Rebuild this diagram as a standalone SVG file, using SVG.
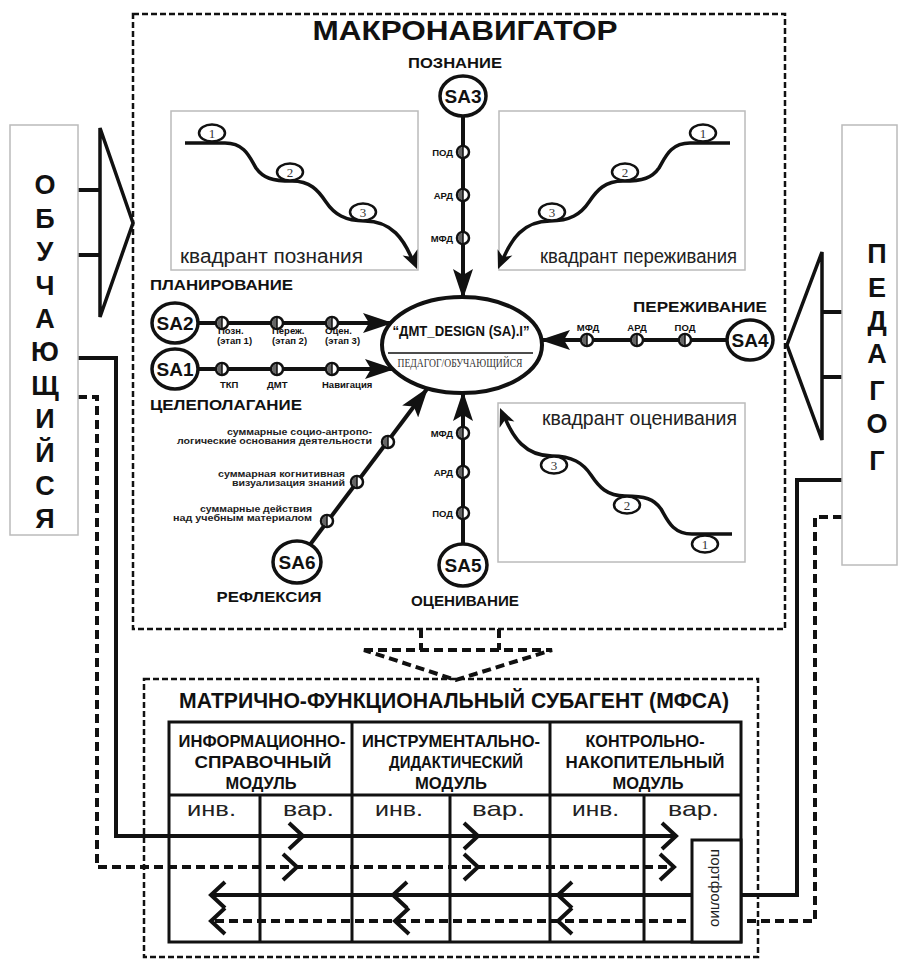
<svg xmlns="http://www.w3.org/2000/svg" width="898" height="962" viewBox="0 0 898 962">
<style>
.b{font-family:"Liberation Sans",Arial,sans-serif;font-weight:bold;fill:#111}
.r{font-family:"Liberation Sans",Arial,sans-serif;fill:#222}
.s{font-family:"Liberation Serif","Times New Roman",serif;fill:#333}
.ln{stroke:#111;stroke-width:4;fill:none}
.dl{stroke:#111;stroke-width:4;fill:none;stroke-dasharray:9 5}
.bd{stroke:#111;stroke-width:2.5;fill:none;stroke-dasharray:6 3}
.q{fill:#fff;stroke:#bbb;stroke-width:1.5}
.sa{fill:#fff;stroke:#111;stroke-width:3.5}
.cv{stroke:#111;stroke-width:3.5;fill:none}
.qc{fill:#fff;stroke:#111;stroke-width:2.5}
.ch{stroke:#111;stroke-width:4;fill:none;stroke-linejoin:miter}
.tb{stroke:#111;stroke-width:3;fill:none}
.bx{fill:#fff;stroke:#bbb;stroke-width:1.5}
.tri{fill:#fff;stroke:#111;stroke-width:3.5}
</style>
<defs>
<marker id="ah" viewBox="0 0 30 20" refX="28" refY="10" markerWidth="30" markerHeight="20" markerUnits="userSpaceOnUse" orient="auto">
<path d="M0,0 L30,10 L0,20 L6,10 Z" fill="#111"/>
</marker>
<g id="nd">
<circle r="6" fill="#fff" stroke="#111" stroke-width="2.5"/>
<path d="M0,-5 A5,5 0 0 0 0,5 Z" fill="#666"/>
<line x1="0" y1="-6" x2="0" y2="6" stroke="#111" stroke-width="1.5"/>
</g>
<g id="qcurve">
<path class="cv" d="M185,143 L225,143 C245,143 250,158 256,168 C263,178 272,181 292,181 C310,181 318,190 326,202 C334,214 345,221 365,221 C392,221 404,240 412,259"/>
<polygon points="417,269 402.6,255.5 412,257 417.4,249.3" fill="#111"/>
<ellipse class="qc" cx="212" cy="133" rx="13" ry="8.5"/>
<ellipse class="qc" cx="290" cy="172" rx="13" ry="8.5"/>
<ellipse class="qc" cx="363" cy="212" rx="13" ry="8.5"/>
</g>
</defs>

<!-- MACRONAVIGATOR frame -->
<g id="macronav">
<rect class="bd" x="133" y="14" width="652" height="615"/>
<text class="b" x="465" y="40" font-size="27" text-anchor="middle" textLength="305" lengthAdjust="spacingAndGlyphs">МАКРОНАВИГАТОР</text>
</g>

<!-- quadrants -->
<g id="q-poznanie">
<rect class="q" x="171" y="111" width="247" height="159"/>
<use href="#qcurve"/>
<text class="s" font-size="13" text-anchor="middle" x="212" y="138">1</text>
<text class="s" font-size="13" text-anchor="middle" x="290" y="177">2</text>
<text class="s" font-size="13" text-anchor="middle" x="363" y="217">3</text>
<text class="r" x="180" y="263" font-size="20" textLength="183" lengthAdjust="spacingAndGlyphs">квадрант познания</text>
</g>
<g id="q-perezhivanie">
<rect class="q" x="499" y="111" width="246" height="159"/>
<use href="#qcurve" transform="translate(915,0) scale(-1,1)"/>
<text class="s" font-size="13" text-anchor="middle" x="703" y="138">1</text>
<text class="s" font-size="13" text-anchor="middle" x="625" y="177">2</text>
<text class="s" font-size="13" text-anchor="middle" x="552" y="217">3</text>
<text class="r" x="540" y="263" font-size="20" textLength="197" lengthAdjust="spacingAndGlyphs">квадрант переживания</text>
</g>
<g id="q-ocenivanie">
<rect class="q" x="498" y="403" width="247" height="159"/>
<use href="#qcurve" transform="translate(917,677) scale(-1,-1)"/>
<text class="s" font-size="13" text-anchor="middle" x="705" y="549">1</text>
<text class="s" font-size="13" text-anchor="middle" x="627" y="510">2</text>
<text class="s" font-size="13" text-anchor="middle" x="554" y="470">3</text>
<text class="r" x="542" y="425" font-size="20" textLength="195" lengthAdjust="spacingAndGlyphs">квадрант оценивания</text>
</g>

<!-- connectors -->
<g id="connectors">
<line class="ln" x1="463" y1="96" x2="463" y2="297" marker-end="url(#ah)"/>
<line class="ln" x1="463" y1="565" x2="463" y2="393" marker-end="url(#ah)"/>
<line class="ln" x1="175" y1="323" x2="391" y2="323" marker-end="url(#ah)"/>
<line class="ln" x1="175" y1="369" x2="393" y2="369" marker-end="url(#ah)"/>
<line class="ln" x1="750" y1="340" x2="542" y2="340" marker-end="url(#ah)"/>
<line class="ln" x1="297" y1="562" x2="427" y2="389" marker-end="url(#ah)"/>

<!-- learner side -->
<line class="ln" x1="78" y1="190" x2="100" y2="190"/>
<line class="ln" x1="78" y1="255" x2="100" y2="255"/>
<polygon class="tri" points="100,128 133,223 100,317"/>
<path class="ln" d="M78,358 H116 V836 H676"/>
<path class="dl" d="M78,397 H97 V867 H674"/>

<!-- teacher side -->
<line class="ln" x1="822" y1="312" x2="842" y2="312"/>
<line class="ln" x1="822" y1="377" x2="842" y2="377"/>
<polygon class="tri" points="822,252 787,345 822,440"/>
<path class="ln" d="M842,480 H797 V895 H211"/>
<path class="dl" d="M842,517 H815 V921 H211"/>

<!-- macronav to MFSA -->
<path class="dl" d="M421,629 V650 M499,629 V650"/>
<path class="dl" d="M364,650 H552 L456,680 Z"/>
</g>

<!-- spoke nodes -->
<g id="spoke-nodes">
<use href="#nd" x="463" y="152"/><use href="#nd" x="463" y="195"/><use href="#nd" x="463" y="238"/>
<use href="#nd" x="463" y="433"/><use href="#nd" x="463" y="472"/><use href="#nd" x="463" y="513"/>
<use href="#nd" x="222" y="323"/><use href="#nd" x="277" y="323"/><use href="#nd" x="332" y="323"/>
<use href="#nd" x="222" y="369"/><use href="#nd" x="277" y="369"/><use href="#nd" x="332" y="369"/>
<use href="#nd" x="587" y="340"/><use href="#nd" x="637" y="340"/><use href="#nd" x="685" y="340"/>
<use href="#nd" x="388" y="442"/><use href="#nd" x="357" y="482"/><use href="#nd" x="327" y="521"/>
</g>

<g id="spoke-labels" class="b" font-size="9.5">
<text x="453" y="156" text-anchor="end">ПОД</text>
<text x="453" y="199" text-anchor="end">АРД</text>
<text x="453" y="242" text-anchor="end">МФД</text>
<text x="453" y="437" text-anchor="end">МФД</text>
<text x="453" y="476" text-anchor="end">АРД</text>
<text x="453" y="517" text-anchor="end">ПОД</text>
<text x="588" y="331" text-anchor="middle">МФД</text>
<text x="637" y="331" text-anchor="middle">АРД</text>
<text x="685" y="331" text-anchor="middle">ПОД</text>
<text x="218" y="334">Позн.</text>
<text x="217" y="344">(этап 1)</text>
<text x="272" y="334">Переж.</text>
<text x="272" y="344">(этап 2)</text>
<text x="325" y="334">Оцен.</text>
<text x="325" y="344">(этап 3)</text>
<text x="220" y="388">ТКП</text>
<text x="267" y="388">ДМТ</text>
<text x="322" y="388">Навигация</text>
<g font-size="9" fill="#222">
<text x="372" y="435" text-anchor="end" textLength="145" lengthAdjust="spacingAndGlyphs">суммарные социо-антропо-</text>
<text x="372" y="444" text-anchor="end" textLength="195" lengthAdjust="spacingAndGlyphs">логические основания деятельности</text>
<text x="345" y="477" text-anchor="end" textLength="127" lengthAdjust="spacingAndGlyphs">суммарная когнитивная</text>
<text x="345" y="486" text-anchor="end" textLength="113" lengthAdjust="spacingAndGlyphs">визуализация знаний</text>
<text x="312" y="512" text-anchor="end" textLength="112" lengthAdjust="spacingAndGlyphs">суммарные действия</text>
<text x="312" y="521" text-anchor="end" textLength="139" lengthAdjust="spacingAndGlyphs">над учебным материалом</text>
</g>
</g>

<!-- core -->
<g id="core">
<ellipse cx="462" cy="345" rx="80" ry="48" fill="#fff" stroke="#111" stroke-width="4"/>
<text class="b" x="461" y="336" font-size="15" text-anchor="middle" textLength="137" lengthAdjust="spacingAndGlyphs">“ДМТ_DESIGN (SA).I”</text>
<line x1="388" y1="353" x2="533" y2="353" stroke="#111" stroke-width="1.5"/>
<text class="s" x="460" y="367" font-size="12" text-anchor="middle" textLength="125" lengthAdjust="spacingAndGlyphs" fill="#111">ПЕДАГОГ/ОБУЧАЮЩИЙСЯ</text>
</g>

<!-- SA nodes -->
<g id="sa3">
<text class="b" x="455" y="68" font-size="14" text-anchor="middle" textLength="94" lengthAdjust="spacingAndGlyphs">ПОЗНАНИЕ</text>
<ellipse class="sa" cx="463" cy="96" rx="23" ry="20"/>
<text class="b" x="463" y="103" font-size="19" text-anchor="middle">SA3</text>
</g>
<g id="sa2">
<text class="b" x="150" y="290" font-size="14" textLength="143" lengthAdjust="spacingAndGlyphs">ПЛАНИРОВАНИЕ</text>
<ellipse class="sa" cx="175" cy="323" rx="23" ry="20"/>
<text class="b" x="175" y="330" font-size="19" text-anchor="middle">SA2</text>
</g>
<g id="sa1">
<ellipse class="sa" cx="175" cy="369" rx="23" ry="20"/>
<text class="b" x="175" y="376" font-size="19" text-anchor="middle">SA1</text>
<text class="b" x="150" y="410" font-size="14" textLength="152" lengthAdjust="spacingAndGlyphs">ЦЕЛЕПОЛАГАНИЕ</text>
</g>
<g id="sa4">
<text class="b" x="767" y="312" font-size="14" text-anchor="end" textLength="134" lengthAdjust="spacingAndGlyphs">ПЕРЕЖИВАНИЕ</text>
<ellipse class="sa" cx="750" cy="340" rx="23" ry="20"/>
<text class="b" x="750" y="347" font-size="19" text-anchor="middle">SA4</text>
</g>
<g id="sa5">
<ellipse class="sa" cx="463" cy="565" rx="24" ry="21"/>
<text class="b" x="463" y="572" font-size="19" text-anchor="middle">SA5</text>
<text class="b" x="465" y="606" font-size="14" text-anchor="middle" textLength="108" lengthAdjust="spacingAndGlyphs">ОЦЕНИВАНИЕ</text>
</g>
<g id="sa6">
<ellipse class="sa" cx="297" cy="562" rx="24" ry="21"/>
<text class="b" x="297" y="569" font-size="19" text-anchor="middle">SA6</text>
<text class="b" x="269" y="602" font-size="14" text-anchor="middle" textLength="105" lengthAdjust="spacingAndGlyphs">РЕФЛЕКСИЯ</text>
</g>

<!-- learner -->
<g id="learner">
<rect class="bx" x="10" y="125" width="68" height="410"/>
<g class="b" font-size="27" text-anchor="middle">
<text x="45" y="194">О</text><text x="45" y="228">Б</text><text x="45" y="261">У</text><text x="45" y="295">Ч</text>
<text x="45" y="328">А</text><text x="45" y="361">Ю</text><text x="45" y="395">Щ</text><text x="45" y="428">И</text>
<text x="45" y="462">Й</text><text x="45" y="495">С</text><text x="45" y="528">Я</text>
</g>
</g>

<!-- teacher -->
<g id="teacher">
<rect class="bx" x="842" y="125" width="55" height="440"/>
<g class="b" font-size="27" text-anchor="middle">
<text x="877" y="263">П</text><text x="877" y="297">Е</text><text x="877" y="330">Д</text><text x="877" y="363">А</text>
<text x="877" y="400">Г</text><text x="877" y="433">О</text><text x="877" y="470">Г</text>
</g>
</g>

<!-- MFSA -->
<g id="mfsa">
<rect class="bd" x="144" y="679" width="614" height="278"/>
<text class="b" x="454" y="708" font-size="22" text-anchor="middle" textLength="550" lengthAdjust="spacingAndGlyphs">МАТРИЧНО-ФУНКЦИОНАЛЬНЫЙ СУБАГЕНТ (МФСА)</text>
<rect class="tb" x="169" y="722" width="572" height="220"/>
<line class="tb" x1="169" y1="795" x2="741" y2="795"/>
<line class="tb" x1="352" y1="722" x2="352" y2="942"/>
<line class="tb" x1="550" y1="722" x2="550" y2="942"/>
<line class="tb" x1="260" y1="795" x2="260" y2="942"/>
<line class="tb" x1="450" y1="795" x2="450" y2="942"/>
<line class="tb" x1="644" y1="795" x2="644" y2="942"/>
<g class="b" font-size="17" text-anchor="middle">
<text x="262" y="747" textLength="167" lengthAdjust="spacingAndGlyphs">ИНФОРМАЦИОННО-</text>
<text x="263" y="768" textLength="137" lengthAdjust="spacingAndGlyphs">СПРАВОЧНЫЙ</text>
<text x="261" y="789" textLength="71" lengthAdjust="spacingAndGlyphs">МОДУЛЬ</text>
<text x="451" y="747" textLength="178" lengthAdjust="spacingAndGlyphs">ИНСТРУМЕНТАЛЬНО-</text>
<text x="456" y="768" textLength="134" lengthAdjust="spacingAndGlyphs">ДИДАКТИЧЕСКИЙ</text>
<text x="451" y="789" textLength="72" lengthAdjust="spacingAndGlyphs">МОДУЛЬ</text>
<text x="645" y="747" textLength="119" lengthAdjust="spacingAndGlyphs">КОНТРОЛЬНО-</text>
<text x="645" y="768" textLength="159" lengthAdjust="spacingAndGlyphs">НАКОПИТЕЛЬНЫЙ</text>
<text x="648" y="789" textLength="71" lengthAdjust="spacingAndGlyphs">МОДУЛЬ</text>
</g>
<g class="r" font-size="21" fill="#111">
<text x="187" y="816" textLength="49" lengthAdjust="spacingAndGlyphs">инв.</text>
<text x="283" y="816" textLength="51" lengthAdjust="spacingAndGlyphs">вар.</text>
<text x="375" y="816" textLength="48" lengthAdjust="spacingAndGlyphs">инв.</text>
<text x="472" y="816" textLength="53" lengthAdjust="spacingAndGlyphs">вар.</text>
<text x="572" y="816" textLength="47" lengthAdjust="spacingAndGlyphs">инв.</text>
<text x="668" y="816" textLength="51" lengthAdjust="spacingAndGlyphs">вар.</text>
</g>
<g class="ch">
<path d="M289,823 L303,836 L289,849"/>
<path d="M464,823 L478,836 L464,849"/>
<path d="M662,823 L676,836 L662,849"/>
<path d="M283,854 L297,867 L283,880"/>
<path d="M464,854 L478,867 L464,880"/>
<path d="M660,854 L674,867 L660,880"/>
<path d="M225,882 L211,895 L225,908"/>
<path d="M407,882 L393,895 L407,908"/>
<path d="M572,882 L558,895 L572,908"/>
<path d="M225,908 L211,921 L225,934"/>
<path d="M409,908 L395,921 L409,934"/>
<path d="M572,908 L558,921 L572,934"/>
</g>
<g id="portfolio">
<rect x="692" y="840" width="49" height="102" fill="#fff" stroke="#111" stroke-width="3"/>
<text class="r" x="0" y="0" font-size="14" fill="#111" text-anchor="middle" transform="translate(711,888) rotate(90)" textLength="78" lengthAdjust="spacingAndGlyphs">портфолио</text>
</g>
</g>
</svg>
